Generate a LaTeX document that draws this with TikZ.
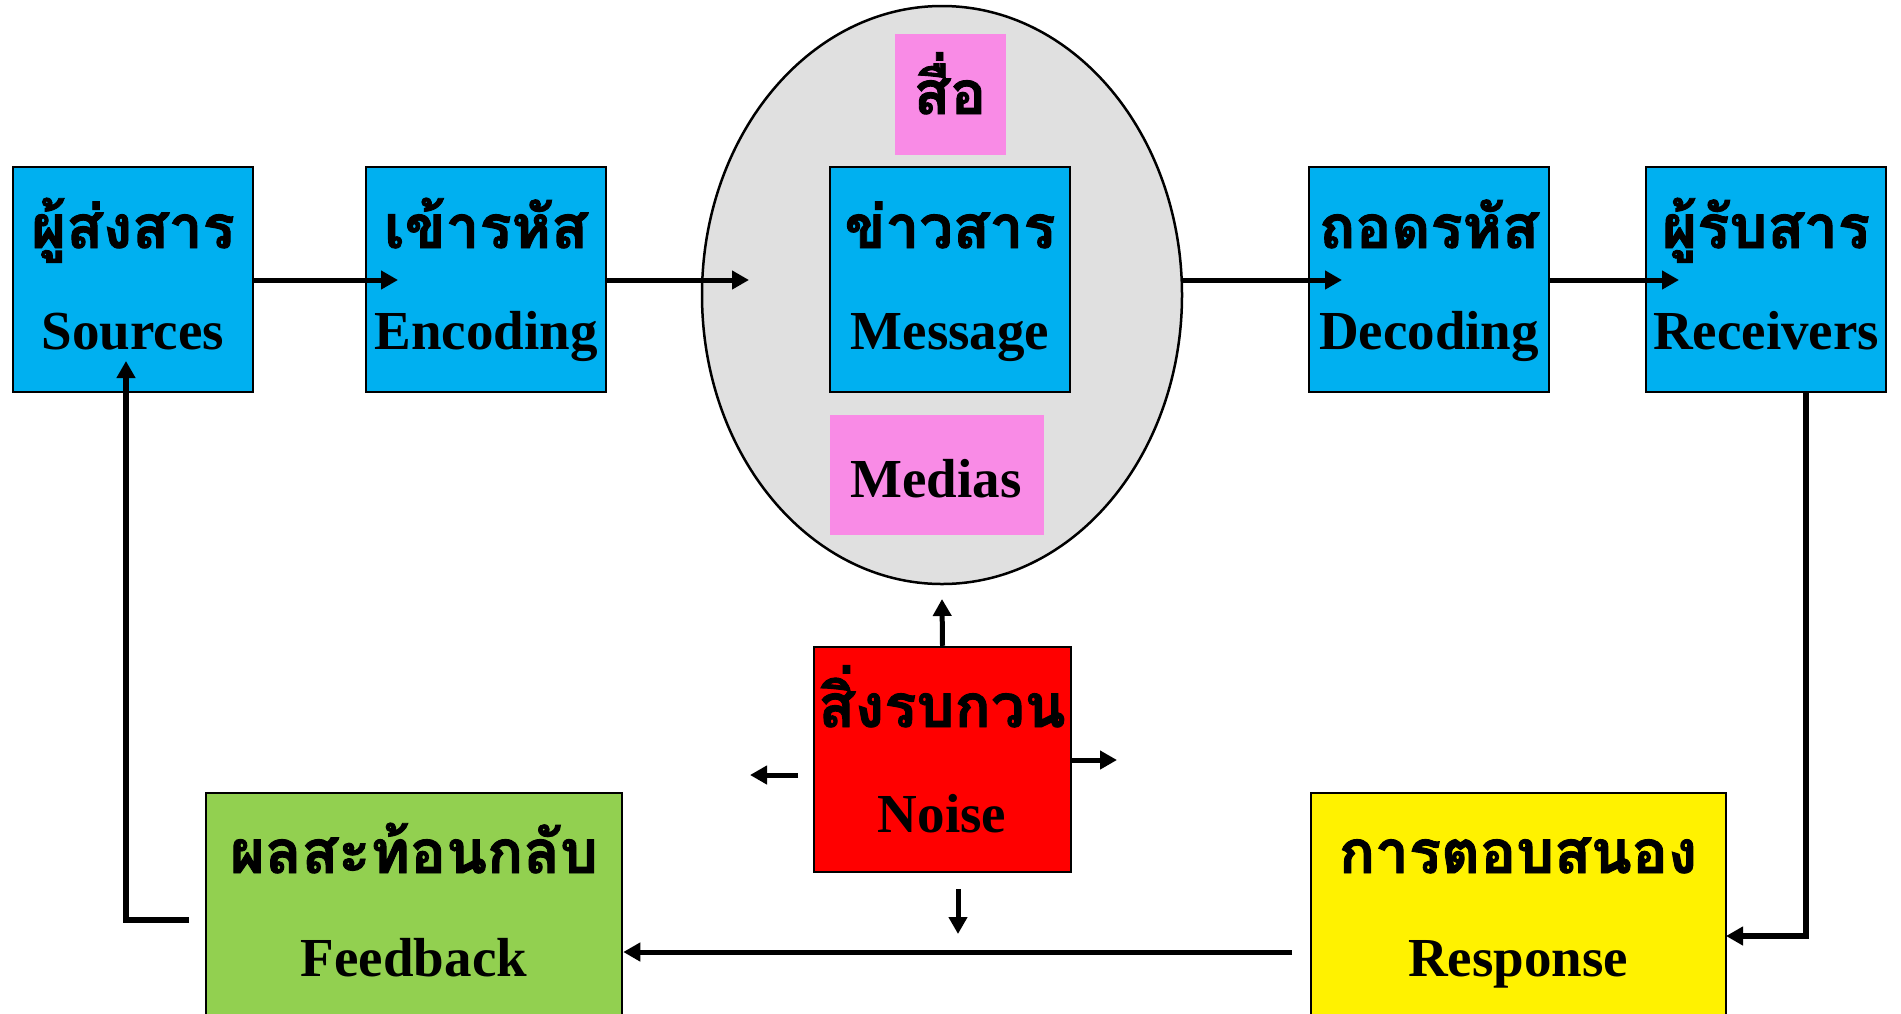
\documentclass[tikz,border=0pt]{standalone}
\usepackage{fontspec}
\setmainfont{Liberation Serif}
\newfontfamily\thai[Script=Thai,BoldFeatures={FakeBold=1.5}]{Loma}
\usepackage{tikz}
\usetikzlibrary{arrows.meta,calc,positioning,shapes.geometric}

\definecolor{boxblue}{HTML}{00B0F0}
\definecolor{boxpink}{HTML}{F98BE6}
\definecolor{boxgreen}{HTML}{92D050}
\definecolor{mediagray}{HTML}{E0E0E0}

\begin{document}
\begin{tikzpicture}[x=1pt,y=-1pt,>={Triangle[length=17pt,width=18pt]},
		box/.style={draw,line width=2.5pt,minimum width=240pt,minimum height=225pt,inner sep=0pt},
		tag/.style={fill=boxpink,inner sep=0pt},
		th/.style={font=\thai\bfseries\fontsize{60}{62}\selectfont,anchor=base,inner sep=0pt},
		en/.style={font=\bfseries\fontsize{55}{60}\selectfont,anchor=base,inner sep=0pt},
		arr/.style={->,line width=5pt}]
		\useasboundingbox (0,0) rectangle (1901,1013);
		\clip (0,0) rectangle (1901,1013);
		% channel
		\node[ellipse,draw,line width=2.5pt,fill=mediagray,minimum width=480pt,minimum height=578pt] (media) at (942,295) {};
		\node[tag,minimum width=111pt,minimum height=121pt] (chan) at (950,94) {};
		\node[tag,minimum width=214pt,minimum height=120pt] (mds) at (937,475) {};
		% boxes
		\node[box,fill=boxblue] (src) at (133,279.5) {};
		\node[box,fill=boxblue] (enc) at (486,279.5) {};
		\node[box,fill=boxblue] (msg) at (950,279.5) {};
		\node[box,fill=boxblue] (dec) at (1429,279.5) {};
		\node[box,fill=boxblue] (rcv) at (1766,279.5) {};
		\node[box,fill=red,minimum width=257pt] (noi) at (942.5,759.5) {};
		\node[box,fill=boxgreen,minimum width=416pt,minimum height=260pt] (fb) at (414,923) {};
		\node[box,fill=yellow,minimum width=415pt,minimum height=260pt] (rsp) at (1518.5,923) {};
		% texts
		\node[th] (chan_t) at (950,114) {สื่อ};
		\node[en] (mds_t) at (936,497) {Medias};
		\node[th] (src_t) at (133,248) {ผู้ส่งสาร};
		\node[en] (src_e) at (133,349) {Sources};
		\node[th] (enc_t) at (486,248) {เข้ารหัส};
		\node[en] (enc_e) at (486,349) {Encoding};
		\node[th] (msg_t) at (950,248) {ข่าวสาร};
		\node[en] (msg_e) at (950,349) {Message};
		\node[th] (dec_t) at (1429,248) {ถอดรหัส};
		\node[en] (dec_e) at (1429,349) {Decoding};
		\node[th] (rcv_t) at (1766,248) {ผู้รับสาร};
		\node[en] (rcv_e) at (1766,349) {Receivers};
		\node[th] (noi_t) at (942,727) {สิ่งรบกวน};
		\node[en] (noi_e) at (942,832) {Noise};
		\node[th] (fb_t) at (414,873) {ผลสะท้อนกลับ};
		\node[en] (fb_e) at (414,976) {Feedback};
		\node[th] (rsp_t) at (1518,873) {การตอบสนอง};
		\node[en] (rsp_e) at (1518,976) {Response};
		% connector ends
		\coordinate (enc_in) at (398,280);
		\coordinate (media_in) at (749,280);
		\coordinate (dec_in) at (1342,280);
		\coordinate (rcv_in) at (1679,280);
		\coordinate (rcv_out) at (1806,392);
		\coordinate (rsp_in) at (1726,936);
		\coordinate (rsp_out) at (1292,952);
		\coordinate (fb_out) at (189,920);
		\coordinate (src_in) at (126,361);
		\coordinate (noi_up) at (942,599);
		\coordinate (noi_r) at (1117,760);
		\coordinate (noi_l0) at (798,775);
		\coordinate (noi_l) at (750,775);
		\coordinate (noi_d0) at (958,889);
		\coordinate (noi_d) at (958,934);
		% flow
		\draw[arr] (src.east |- enc_in) -- (enc_in);
		\draw[arr] (enc.east |- media_in) -- (media_in);
		\draw[arr] (media.east |- dec_in) -- (dec_in);
		\draw[arr] (dec.east |- rcv_in) -- (rcv_in);
		\draw[arr,line width=6pt] (rcv_out) |- (rsp_in);
		\draw[arr] (rsp_out) -- (fb.east |- rsp_out);
		\draw[arr,line width=6pt] (fb_out) -| (src_in);
		% noise
		\draw[arr] (noi.north) -- (noi_up);
		\draw[arr] (noi.east |- noi_r) -- (noi_r);
		\draw[arr] (noi_l0) -- (noi_l);
		\draw[arr] (noi_d0) -- (noi_d);
	\end{tikzpicture}
\end{document}
